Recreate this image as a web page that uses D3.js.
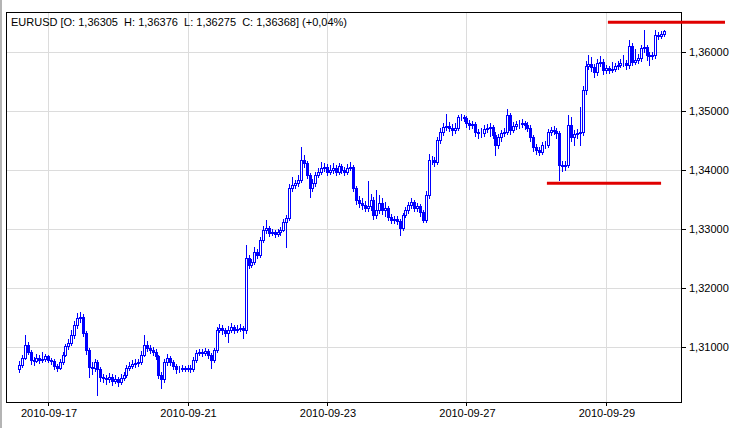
<!DOCTYPE html>
<html>
<head>
<meta charset="utf-8">
<script src="https://cdn.jsdelivr.net/npm/d3@7"></script>
<style>
  html, body { margin: 0; padding: 0; background: #fff; }
  svg { display: block; }
  text { font-family: "Liberation Sans", Arial, sans-serif; font-size: 11px; fill: #000; }
</style>
</head>
<body>
<div id="chart"></div>
<script>
// EURUSD H1, 16 Sep - 29 Sep 2010 (open of each bar = previous close)
const firstOpen = 1.3062;
const closes = [
  1.3070,1.3082,1.3104,1.3092,1.3078,1.3077,1.3082,1.3078,1.3080,1.3084,
  1.3078,1.3077,1.3068,1.3065,1.3075,1.3087,1.3101,1.3107,1.3121,1.3138,
  1.3150,1.3151,1.3124,1.3095,1.3067,1.3065,1.3075,1.3062,1.3050,1.3048,
  1.3045,1.3050,1.3043,1.3046,1.3041,1.3048,1.3053,1.3065,1.3068,1.3072,
  1.3073,1.3075,1.3087,1.3104,1.3099,1.3095,1.3092,1.3084,1.3053,1.3045,
  1.3075,1.3082,1.3075,1.3068,1.3063,1.3063,1.3065,1.3063,1.3065,1.3063,
  1.3078,1.3090,1.3092,1.3090,1.3094,1.3087,1.3078,1.3095,1.3129,1.3133,
  1.3129,1.3124,1.3129,1.3134,1.3129,1.3131,1.3133,1.3129,1.3251,1.3240,
  1.3245,1.3262,1.3256,1.3282,1.3299,1.3302,1.3294,1.3295,1.3292,1.3295,
  1.3299,1.3312,1.3319,1.3370,1.3375,1.3378,1.3384,1.3417,1.3412,1.3392,
  1.3370,1.3378,1.3392,1.3397,1.3404,1.3406,1.3397,1.3401,1.3404,1.3397,
  1.3407,1.3401,1.3397,1.3404,1.3406,1.3370,1.3350,1.3345,1.3341,1.3336,
  1.3339,1.3350,1.3324,1.3333,1.3345,1.3333,1.3336,1.3321,1.3316,1.3317,
  1.3314,1.3302,1.3324,1.3333,1.3341,1.3346,1.3336,1.3339,1.3329,1.3316,
  1.3358,1.3417,1.3417,1.3414,1.3451,1.3465,1.3473,1.3475,1.3472,1.3468,
  1.3472,1.3490,1.3490,1.3489,1.3480,1.3477,1.3478,1.3465,1.3463,1.3463,
  1.3470,1.3472,1.3473,1.3460,1.3443,1.3456,1.3463,1.3465,1.3494,1.3468,
  1.3475,1.3478,1.3478,1.3480,1.3477,1.3472,1.3456,1.3440,1.3434,1.3431,
  1.3443,1.3443,1.3465,1.3468,1.3467,1.3463,1.3409,1.3407,1.3409,1.3477,
  1.3456,1.3461,1.3463,1.3465,1.3536,1.3577,1.3580,1.3575,1.3567,1.3582,
  1.3584,1.3570,1.3573,1.3570,1.3572,1.3577,1.3578,1.3582,1.3582,1.3578,
  1.3611,1.3584,1.3587,1.3590,1.3607,1.3609,1.3595,1.3594,1.3595,1.3629,
  1.3628,1.36305,1.36368
];
const highs = [
  1.3076,1.3086,1.3121,1.3108,1.3095,1.3083,1.3089,1.3086,1.3092,1.3088,
  1.3087,1.3082,1.3079,1.3071,1.3079,1.3092,1.3106,1.3114,1.3129,1.3145,
  1.3158,1.3160,1.3156,1.3128,1.3099,1.3074,1.3080,1.3078,1.3066,1.3055,
  1.3053,1.3056,1.3054,1.3052,1.3050,1.3054,1.3058,1.3070,1.3074,1.3078,
  1.3080,1.3079,1.3093,1.3121,1.3110,1.3103,1.3100,1.3096,1.3087,1.3058,
  1.3079,1.3088,1.3085,1.3078,1.3071,1.3068,1.3069,1.3068,1.3070,1.3069,
  1.3083,1.3095,1.3097,1.3096,1.3099,1.3097,1.3090,1.3099,1.3134,1.3139,
  1.3137,1.3133,1.3135,1.3140,1.3137,1.3138,1.3139,1.3136,1.3273,1.3256,
  1.3250,1.3269,1.3266,1.3287,1.3306,1.3316,1.3306,1.3301,1.3299,1.3300,
  1.3304,1.3318,1.3324,1.3376,1.3388,1.3384,1.3391,1.3439,1.3425,1.3416,
  1.3396,1.3385,1.3397,1.3403,1.3414,1.3412,1.3410,1.3408,1.3412,1.3409,
  1.3413,1.3411,1.3405,1.3410,1.3414,1.3409,1.3374,1.3356,1.3352,1.3348,
  1.3381,1.3360,1.3354,1.3367,1.3358,1.3352,1.3346,1.3340,1.3326,1.3323,
  1.3322,1.3318,1.3328,1.3338,1.3346,1.3353,1.3350,1.3345,1.3343,1.3333,
  1.3364,1.3428,1.3424,1.3422,1.3456,1.3471,1.3480,1.3496,1.3481,1.3478,
  1.3480,1.3494,1.3495,1.3494,1.3492,1.3485,1.3484,1.3482,1.3470,1.3471,
  1.3476,1.3479,1.3480,1.3477,1.3464,1.3461,1.3468,1.3472,1.3504,1.3497,
  1.3482,1.3484,1.3485,1.3486,1.3484,1.3481,1.3476,1.3460,1.3445,1.3439,
  1.3448,1.3450,1.3470,1.3474,1.3475,1.3472,1.3467,1.3416,1.3415,1.3494,
  1.3490,1.3468,1.3470,1.3507,1.3543,1.3585,1.3596,1.3592,1.3580,1.3588,
  1.3594,1.3588,1.3579,1.3577,1.3583,1.3582,1.3585,1.3589,1.3596,1.3587,
  1.3621,1.3615,1.3605,1.3597,1.3613,1.3638,1.3613,1.3601,1.3600,1.3638,
  1.3634,1.3636,1.36376
];
const lows = [
  1.3057,1.3066,1.3079,1.3088,1.3072,1.3070,1.3074,1.3073,1.3075,1.3076,
  1.3074,1.3072,1.3063,1.3060,1.3062,1.3072,1.3084,1.3097,1.3104,1.3116,
  1.3133,1.3143,1.3118,1.3088,1.3050,1.3055,1.3060,1.3019,1.3043,1.3040,
  1.3038,1.3041,1.3036,1.3039,1.3034,1.3037,1.3044,1.3050,1.3061,1.3064,
  1.3066,1.3068,1.3071,1.3084,1.3094,1.3090,1.3087,1.3079,1.3048,1.3031,
  1.3041,1.3070,1.3070,1.3063,1.3056,1.3058,1.3060,1.3059,1.3060,1.3058,
  1.3060,1.3075,1.3086,1.3085,1.3086,1.3082,1.3064,1.3075,1.3092,1.3125,
  1.3122,1.3118,1.3109,1.3125,1.3124,1.3126,1.3127,1.3116,1.3124,1.3234,
  1.3236,1.3241,1.3251,1.3252,1.3278,1.3294,1.3289,1.3290,1.3286,1.3288,
  1.3290,1.3296,1.3270,1.3315,1.3364,1.3369,1.3373,1.3380,1.3405,1.3386,
  1.3355,1.3364,1.3374,1.3388,1.3393,1.3399,1.3392,1.3393,1.3396,1.3392,
  1.3393,1.3396,1.3392,1.3394,1.3400,1.3365,1.3343,1.3338,1.3334,1.3330,
  1.3331,1.3333,1.3318,1.3319,1.3328,1.3326,1.3322,1.3315,1.3310,1.3311,
  1.3308,1.3290,1.3298,1.3320,1.3328,1.3336,1.3331,1.3330,1.3322,1.3312,
  1.3312,1.3352,1.3410,1.3407,1.3410,1.3446,1.3460,1.3468,1.3466,1.3460,
  1.3463,1.3468,1.3485,1.3483,1.3474,1.3470,1.3471,1.3458,1.3455,1.3457,
  1.3458,1.3465,1.3458,1.3454,1.3426,1.3438,1.3450,1.3458,1.3461,1.3462,
  1.3464,1.3470,1.3472,1.3474,1.3470,1.3466,1.3450,1.3433,1.3428,1.3425,
  1.3427,1.3437,1.3439,1.3460,1.3461,1.3455,1.3384,1.3399,1.3400,1.3405,
  1.3450,1.3443,1.3455,1.3443,1.3460,1.3530,1.3572,1.3568,1.3558,1.3562,
  1.3577,1.3563,1.3564,1.3564,1.3566,1.3569,1.3572,1.3575,1.3576,1.3571,
  1.3574,1.3578,1.3580,1.3582,1.3586,1.3600,1.3587,1.3578,1.3588,1.3591,
  1.3622,1.3624,1.36275
];
const dateLabels = ["2010-09-17", "2010-09-21", "2010-09-23", "2010-09-27", "2010-09-29"];
const dateIndex = [10, 58, 106, 154, 202];
const priceTicks = [1.31, 1.32, 1.33, 1.34, 1.35, 1.36];
// drawn horizontal levels: price, first bar, last bar
const levelPrice = [1.3651, 1.3378];
const levelFrom = [202.7, 181.7];
const levelTo = [243, 221];
const title = "EURUSD [O: 1,36305  H: 1,36376  L: 1,36275  C: 1,36368] (+0,04%)";

const width = 732, height = 428;
const plotLeft = 6, plotRight = 682, plotTop = 12, plotBottom = 402;
const blue = "#0000ff";

const bars = closes.map((c, i) => ({
    i: i,
    o: i === 0 ? firstOpen : closes[i - 1],
    c: c,
    h: highs[i],
    l: lows[i],
}));

const x = d3.scaleLinear().domain([-4.47, 228.2]).range([plotLeft, plotRight]);
const y = d3.scaleLinear().domain([1.30068, 1.36683]).range([plotBottom, plotTop]);

const svg = d3.select("#chart")
    .append("svg")
    .attr("width", width)
    .attr("height", height);

svg.append("rect").attr("width", width).attr("height", height).attr("fill", "#fff");
// window edge on the left
svg.append("rect").attr("x", 0).attr("y", 0).attr("width", 2).attr("height", height).attr("fill", "#b4b4b4");

// grid
const grid = svg.append("g").attr("shape-rendering", "crispEdges");
grid.selectAll("line.v")
    .data(dateIndex)
    .join("line")
    .attr("x1", (d) => Math.round(x(d)) + 0.5)
    .attr("x2", (d) => Math.round(x(d)) + 0.5)
    .attr("y1", plotTop)
    .attr("y2", plotBottom)
    .attr("stroke", "#dcdcdc");
grid.selectAll("line.h")
    .data(priceTicks)
    .join("line")
    .attr("x1", plotLeft)
    .attr("x2", plotRight)
    .attr("y1", (d) => Math.round(y(d)) + 0.5)
    .attr("y2", (d) => Math.round(y(d)) + 0.5)
    .attr("stroke", "#dcdcdc");

// candles
const candle = svg.append("g")
    .attr("shape-rendering", "crispEdges")
    .selectAll("g")
    .data(bars)
    .join("g");

candle.append("line")
    .attr("x1", (d) => Math.round(x(d.i)) + 0.5)
    .attr("x2", (d) => Math.round(x(d.i)) + 0.5)
    .attr("y1", (d) => Math.round(y(Math.max(d.h, d.o, d.c))))
    .attr("y2", (d) => Math.round(y(Math.min(d.l, d.o, d.c))) + 1)
    .attr("stroke", blue);

candle.append("rect")
    .attr("x", (d) => Math.round(x(d.i)) - 0.5)
    .attr("width", 2)
    .attr("y", (d) => Math.round(y(Math.max(d.o, d.c))) + 0.5)
    .attr("height", (d) => Math.max(0, Math.round(y(Math.min(d.o, d.c))) - Math.round(y(Math.max(d.o, d.c)))))
    .attr("fill", (d) => (d.c >= d.o ? "#fff" : blue))
    .attr("stroke", blue);

// frame
svg.append("rect")
    .attr("x", plotLeft + 0.5)
    .attr("y", plotTop + 0.5)
    .attr("width", plotRight - plotLeft - 1)
    .attr("height", plotBottom - plotTop)
    .attr("fill", "none")
    .attr("stroke", "#000")
    .attr("shape-rendering", "crispEdges");

// right price axis
const yAxis = svg.append("g").attr("shape-rendering", "crispEdges");
yAxis.selectAll("line")
    .data(priceTicks)
    .join("line")
    .attr("x1", plotRight)
    .attr("x2", plotRight + 4)
    .attr("y1", (d) => Math.round(y(d)) + 0.5)
    .attr("y2", (d) => Math.round(y(d)) + 0.5)
    .attr("stroke", "#000");
yAxis.selectAll("text")
    .data(priceTicks)
    .join("text")
    .attr("x", plotRight + 7)
    .attr("y", (d) => y(d) + 4)
    .text((d) => d3.format(".5f")(d).replace(".", ","));

// bottom date axis
const xAxis = svg.append("g").attr("shape-rendering", "crispEdges");
xAxis.selectAll("line")
    .data(dateIndex)
    .join("line")
    .attr("x1", (d) => Math.round(x(d)) + 0.5)
    .attr("x2", (d) => Math.round(x(d)) + 0.5)
    .attr("y1", plotBottom)
    .attr("y2", plotBottom + 4)
    .attr("stroke", "#000");
xAxis.selectAll("text")
    .data(dateIndex)
    .join("text")
    .attr("x", (d) => x(d) + 1)
    .attr("y", plotBottom + 15)
    .attr("text-anchor", "middle")
    .text((d, i) => dateLabels[i]);

// red levels
svg.append("g")
    .selectAll("line")
    .data(levelPrice)
    .join("line")
    .attr("x1", (d, i) => x(levelFrom[i]))
    .attr("x2", (d, i) => x(levelTo[i]))
    .attr("y1", (d) => y(d))
    .attr("y2", (d) => y(d))
    .attr("stroke", "#e00000")
    .attr("stroke-width", 3);

// title (keep the double spaces)
svg.append("text")
    .attr("x", 11)
    .attr("y", 26)
    .style("white-space", "pre")
    .text(title);
</script>
</body>
</html>
